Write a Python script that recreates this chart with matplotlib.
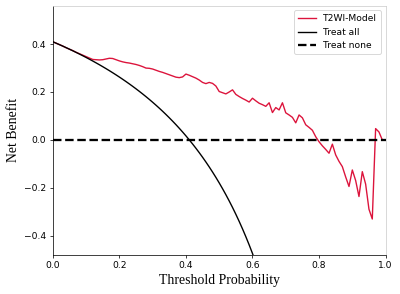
import numpy as np
import matplotlib
matplotlib.use('Agg')
import matplotlib.pyplot as plt

# 决策曲线数据 (thresholds 0.00 .. 0.99)
thresholds = np.arange(0, 1.0, 0.01)
prevalence = 0.41
net_benefit_model = [
    0.410, 0.404, 0.398, 0.392, 0.385, 0.379, 0.373, 0.366, 0.360, 0.354,
    0.348, 0.342, 0.336, 0.335, 0.334, 0.335, 0.338, 0.341, 0.340, 0.335,
    0.330, 0.326, 0.323, 0.321, 0.318, 0.315, 0.311, 0.306, 0.300, 0.299,
    0.296, 0.291, 0.286, 0.282, 0.277, 0.272, 0.267, 0.262, 0.260, 0.263,
    0.275, 0.270, 0.264, 0.258, 0.250, 0.240, 0.235, 0.240, 0.236, 0.225,
    0.202, 0.197, 0.192, 0.200, 0.209, 0.190, 0.181, 0.173, 0.166, 0.158,
    0.174, 0.163, 0.153, 0.147, 0.140, 0.155, 0.114, 0.135, 0.125, 0.155,
    0.113, 0.104, 0.094, 0.071, 0.104, 0.092, 0.063, 0.052, 0.040, 0.013,
    -0.008, -0.025, -0.040, -0.056, -0.018, -0.063, -0.090, -0.112, -0.155, -0.195,
    -0.126, -0.170, -0.237, -0.133, -0.185, -0.290, -0.331, 0.047, 0.033, 0.000,
]
net_benefit_model = np.array(net_benefit_model)
net_benefit_all = prevalence - (1 - prevalence) * thresholds / (1 - thresholds)


def draw():
    # 66 dpi 下使用默认字号
    fig = plt.figure(figsize=(400 / 66.0, 294 / 66.0), dpi=66)
    ax = fig.add_axes([0.132, 0.133, 0.832, 0.847])
    ax.plot(thresholds, net_benefit_model, color='crimson', label='T2WI-Model')
    ax.plot(thresholds, net_benefit_all, color='black', label='Treat all')
    ax.plot((0, 1), (0, 0), color='black', linestyle='--', lw=2.5, label='Treat none')

    ax.set_xlim(0, 1)
    ax.set_ylim(net_benefit_model.min() - 0.15, net_benefit_model.max() + 0.15)
    ax.set_xticks([0.0, 0.2, 0.4, 0.6, 0.8, 1.0])
    ax.set_yticks([-0.4, -0.2, 0.0, 0.2, 0.4])
    ax.set_xlabel('Threshold Probability', family='Liberation Serif', fontsize=15)
    ax.set_ylabel('Net Benefit', family='Liberation Serif', fontsize=15)
    ax.spines['right'].set_color((0.8, 0.8, 0.8))
    ax.spines['top'].set_color((0.8, 0.8, 0.8))
    ax.legend(loc='upper right')
    fig.savefig('out.png', dpi=66)


if __name__ == '__main__':
    draw()
